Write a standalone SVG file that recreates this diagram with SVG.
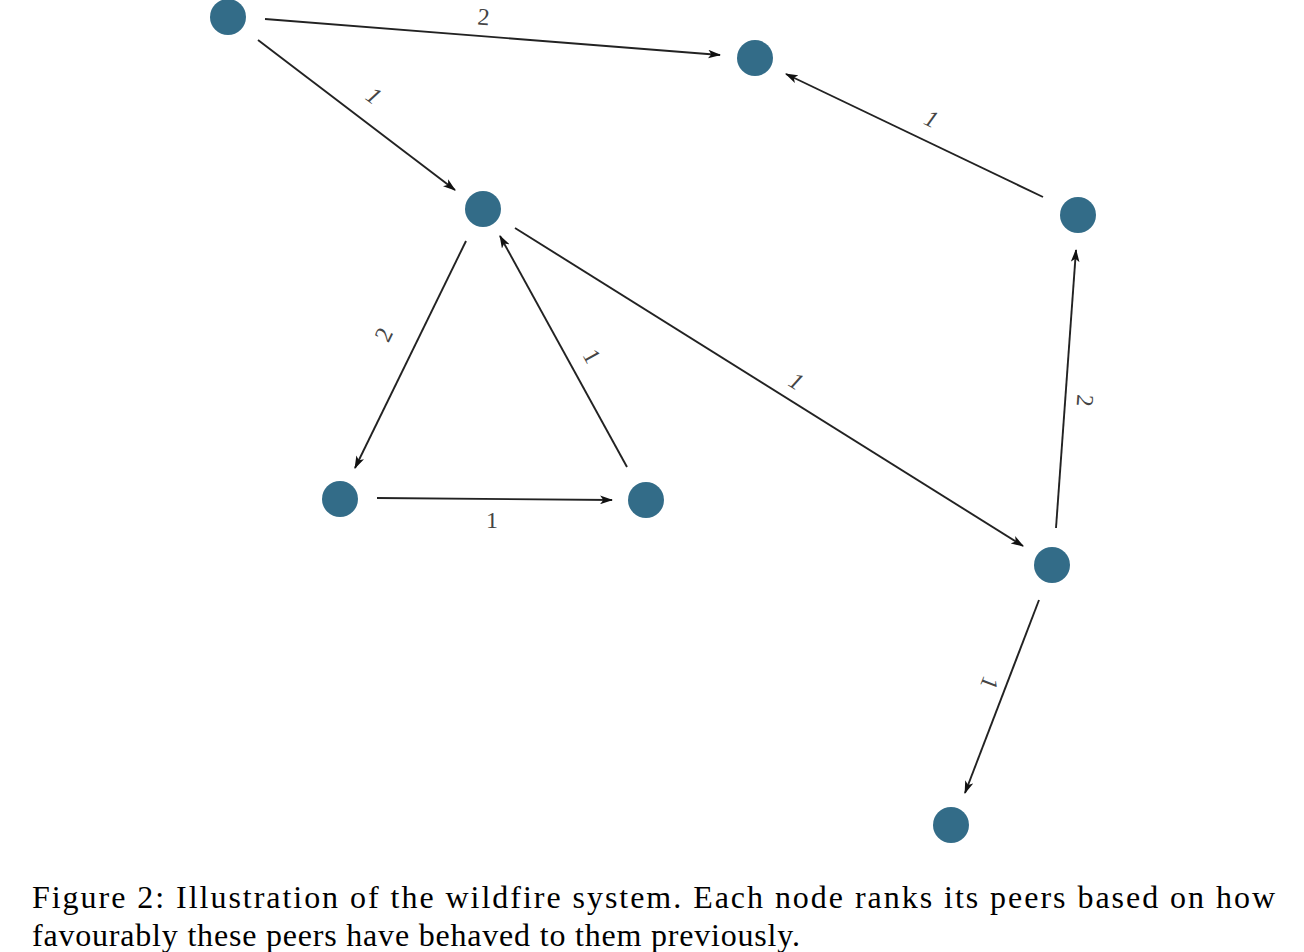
<svg xmlns="http://www.w3.org/2000/svg" width="1304" height="952" viewBox="0 0 1304 952">
<style>
.node{fill:#336c88}
.edge{stroke:#222;stroke-width:1.9;fill:none;marker-end:url(#arr)}
.lbl{font-family:"Liberation Serif",serif;font-size:24px;fill:#444;text-anchor:middle}
.cap{font-family:"Liberation Serif",serif;font-size:32px;fill:#000}
</style>
<defs>
<marker id="arr" viewBox="0 0 12 8" refX="11" refY="4" markerWidth="13" markerHeight="9" markerUnits="userSpaceOnUse" orient="auto">
<path d="M0,0 L12,4 L0,8 L3,4 z" fill="#111"/>
</marker>
</defs>
<rect width="1304" height="952" fill="#fff"/>
<g id="connectors">
<line class="edge" x1="265" y1="19" x2="720" y2="55"/>
<line class="edge" x1="258" y1="40" x2="455" y2="190"/>
<line class="edge" x1="1043" y1="197" x2="786" y2="74"/>
<line class="edge" x1="466" y1="241" x2="355" y2="468"/>
<line class="edge" x1="627" y1="467" x2="500" y2="236"/>
<line class="edge" x1="515" y1="228" x2="1023" y2="546"/>
<line class="edge" x1="377" y1="498" x2="612" y2="500"/>
<line class="edge" x1="1056" y1="528" x2="1076" y2="250"/>
<line class="edge" x1="1039" y1="600" x2="965" y2="793"/>
<text class="lbl" transform="translate(483,25) rotate(4.5)">2</text>
<text class="lbl" font-style="italic" transform="translate(369,102) rotate(37)">1</text>
<text class="lbl" font-style="italic" transform="translate(928,126) rotate(25.6)">1</text>
<text class="lbl" transform="translate(391,338) rotate(-64)">2</text>
<text class="lbl" transform="translate(585,360) rotate(61)">1</text>
<text class="lbl" font-style="italic" transform="translate(792,388) rotate(32)">1</text>
<text class="lbl" x="492" y="528">1</text>
<text class="lbl" transform="translate(1077,400) rotate(94)">2</text>
<text class="lbl" transform="translate(982,680) rotate(111)">1</text>
</g>
<g id="n1"><circle class="node" cx="228" cy="17" r="18"/></g>
<g id="n2"><circle class="node" cx="755" cy="58" r="18"/></g>
<g id="n3"><circle class="node" cx="483" cy="209" r="18"/></g>
<g id="n4"><circle class="node" cx="1078" cy="215" r="18"/></g>
<g id="n5"><circle class="node" cx="340" cy="499" r="18"/></g>
<g id="n6"><circle class="node" cx="646" cy="500" r="18"/></g>
<g id="n7"><circle class="node" cx="1052" cy="565" r="18"/></g>
<g id="n8"><circle class="node" cx="951" cy="825" r="18"/></g>
<g id="caption">
<text class="cap" x="32" y="908" textLength="1243" lengthAdjust="spacing">Figure 2:  Illustration of the wildfire system.  Each node ranks its peers based on how</text>
<text class="cap" x="32" y="946" textLength="768" lengthAdjust="spacing">favourably these peers have behaved to them previously.</text>
</g>
</svg>
